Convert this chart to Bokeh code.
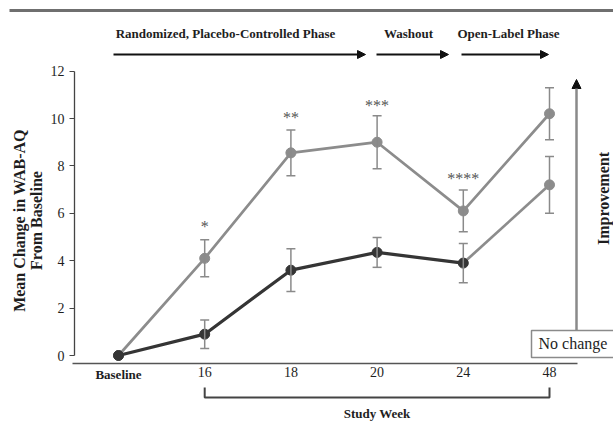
import math
from bokeh.plotting import figure
from bokeh.models import (LinearAxis, FixedTicker, Arrow, NormalHead, Label,
                          Whisker, ColumnDataSource, TeeHead)
from bokeh.core.properties import value
from bokeh.embed import file_html
from bokeh.resources import INLINE

# ---------------- data ----------------
weeks = ["Baseline", "16", "18", "20", "24", "48"]
drug_mean = [0, 4.1, 8.55, 9.0, 6.1, 10.2]
drug_err = [0, 0.78, 0.97, 1.12, 0.88, 1.1]
placebo_mean = [0, 0.9, 3.6, 4.35, 3.9, 7.2]
placebo_err = [0, 0.6, 0.9, 0.63, 0.83, 1.2]
sig_marks = ["*", "**", "***", "****"]
sig_week_index = [1, 2, 3, 4]
sig_y = [5.45, 10.05, 10.55, 7.45]
y_ticks = [0, 2, 4, 6, 8, 10, 12]
phase_labels = ["Randomized, Placebo-Controlled Phase", "Washout", "Open-Label Phase"]

# ---------------- geometry helpers (page px -> data) ----------------
W, H = 613, 433
STEP = 86.2
UNIT = 23.7


def X(ix):
    return (ix - 118) / STEP


def Y(iy):
    return (355 - iy) / UNIT


FONT_NAME = "Liberation Serif"
FONT = value(FONT_NAME)
GRAY = "#8c8c8c"
DARK = "#353535"
TXT = "#1e1e1e"

p = figure(width=W, height=H, output_backend="svg", toolbar_location=None,
           x_range=(X(0), X(W)), y_range=(Y(H), Y(0)),
           x_axis_type=None, y_axis_type=None)
p.min_border = 0
p.min_border_left = 0
p.min_border_right = 0
p.min_border_top = 0
p.min_border_bottom = 0
p.outline_line_color = None
p.background_fill_color = "white"
p.border_fill_color = "white"

xs = list(range(len(weeks)))

# ---------------- axes ----------------
yaxis = LinearAxis(fixed_location=X(74), bounds=(0, 12),
                   ticker=FixedTicker(ticks=y_ticks, minor_ticks=[]))
yaxis.axis_line_color = "#444444"
yaxis.axis_line_width = 1.3
yaxis.major_tick_line_color = "#444444"
yaxis.major_tick_out = 5
yaxis.major_tick_in = 0
yaxis.minor_tick_line_color = None
yaxis.major_label_text_font = FONT_NAME
yaxis.major_label_text_font_size = "14px"
yaxis.major_label_text_color = TXT
yaxis.major_label_standoff = 5
p.add_layout(yaxis, "left")

xaxis = LinearAxis(fixed_location=Y(363), bounds=(X(72), X(577)),
                   ticker=FixedTicker(ticks=xs, minor_ticks=[]))
xaxis.major_label_overrides = {i: (w if i > 0 else "") for i, w in enumerate(weeks)}
xaxis.axis_line_color = "#555555"
xaxis.axis_line_width = 1.5
xaxis.major_tick_line_color = None
xaxis.major_tick_out = 0
xaxis.major_tick_in = 0
xaxis.minor_tick_line_color = None
xaxis.major_label_text_font = FONT_NAME
xaxis.major_label_text_font_size = "14px"
xaxis.major_label_text_color = TXT
xaxis.major_label_standoff = 3
p.add_layout(xaxis, "below")

p.add_layout(Label(x=0, y=Y(374), text=weeks[0], text_font=FONT_NAME,
                   text_font_style="bold", text_font_size="13px",
                   text_color=TXT, text_align="center", text_baseline="middle"))

# ---------------- error bars ----------------
err_x, err_lo, err_hi = [], [], []
for i in range(1, len(weeks)):
    for m, e in ((drug_mean, drug_err), (placebo_mean, placebo_err)):
        err_x.append(i)
        err_lo.append(m[i] - e[i])
        err_hi.append(m[i] + e[i])
esrc = ColumnDataSource(dict(x=err_x, lo=err_lo, hi=err_hi))
p.add_layout(Whisker(source=esrc, base="x", lower="lo", upper="hi",
                     line_color="#8a8a8a", line_width=1.5, level="glyph",
                     upper_head=TeeHead(size=9, line_color="#8a8a8a", line_width=1.5),
                     lower_head=TeeHead(size=9, line_color="#8a8a8a", line_width=1.5)))

# ---------------- series ----------------
p.line(xs, drug_mean, line_color=GRAY, line_width=2.7)
p.scatter(xs, drug_mean, size=10, fill_color=GRAY, line_color=GRAY)

p.line(xs[4:], placebo_mean[4:], line_color=GRAY, line_width=2.7)
p.scatter(xs[5:], placebo_mean[5:], size=10, fill_color=GRAY, line_color=GRAY)
p.line(xs[:5], placebo_mean[:5], line_color=DARK, line_width=3.2)
p.scatter(xs[:5], placebo_mean[:5], size=10, fill_color=DARK, line_color=DARK)

# significance stars
p.text(sig_week_index, sig_y, text=sig_marks, text_font=FONT, text_font_size="16px",
       text_color="#555555", text_align="center", text_baseline="middle")

# ---------------- top decoration ----------------
p.segment(x0=[X(9)], y0=[Y(10)], x1=[X(W + 5)], y1=[Y(10)],
          line_color="#6f6f6f", line_width=3)

phase_text_x = [X(225), X(408), X(508)]
for t, tx in zip(phase_labels, phase_text_x):
    p.add_layout(Label(x=tx, y=Y(33), text=t, text_font=FONT_NAME, text_font_style="bold",
                       text_font_size="13px", text_color=TXT,
                       text_align="center", text_baseline="middle"))

phase_arrows = [(113, 365), (376, 448), (461, 548)]
for a0, a1 in phase_arrows:
    p.add_layout(Arrow(end=NormalHead(size=8, fill_color="#111111", line_color="#111111"),
                       x_start=X(a0), y_start=Y(54), x_end=X(a1), y_end=Y(54),
                       line_color="#111111", line_width=2))

# ---------------- y label ----------------
p.add_layout(Label(x=X(19), y=Y(220), text="Mean Change in WAB-AQ", angle=math.pi / 2,
                   text_font=FONT_NAME, text_font_style="bold", text_font_size="16px",
                   text_color=TXT, text_align="center", text_baseline="middle"))
p.add_layout(Label(x=X(36), y=Y(220), text="From Baseline", angle=math.pi / 2,
                   text_font=FONT_NAME, text_font_style="bold", text_font_size="16px",
                   text_color=TXT, text_align="center", text_baseline="middle"))

# ---------------- study week bracket ----------------
p.line([1, 1, 5, 5], [Y(387), Y(397), Y(397), Y(387)], line_color="#444444", line_width=2)
p.add_layout(Label(x=3.0, y=Y(413), text="Study Week", text_font=FONT_NAME,
                   text_font_style="bold", text_font_size="13px", text_color=TXT,
                   text_align="center", text_baseline="middle"))

# ---------------- improvement arrow & no change box ----------------
p.add_layout(Arrow(end=NormalHead(size=9, fill_color="#111111", line_color="#111111"),
                   x_start=X(576), y_start=Y(330), x_end=X(576), y_end=Y(79),
                   line_color="#8a8a8a", line_width=2.5))
p.quad(left=[X(531)], right=[X(W + 10)], top=[Y(330)], bottom=[Y(357)],
       fill_color="white", line_color="#8a8a8a", line_width=1.5)
p.add_layout(Label(x=X(538), y=Y(343), text="No change", text_font=FONT_NAME,
                   text_font_size="16px", text_color=TXT,
                   text_align="left", text_baseline="middle"))
p.add_layout(Label(x=X(603), y=Y(198), text="Improvement", angle=math.pi / 2,
                   text_font=FONT_NAME, text_font_style="bold", text_font_size="16px",
                   text_color=TXT, text_align="center", text_baseline="middle"))

open("out.html", "w").write(file_html(p, INLINE))
